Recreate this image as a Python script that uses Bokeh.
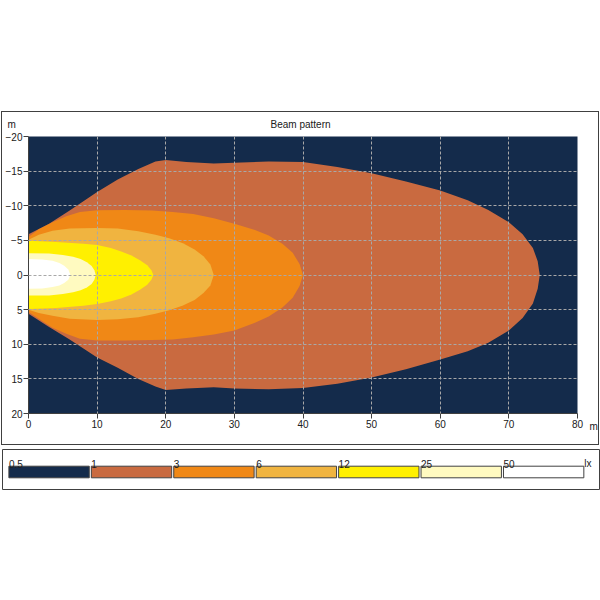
from bokeh.plotting import figure
from bokeh.models import Range1d, FixedTicker, Spacer
from bokeh.layouts import column, row
from bokeh.core.properties import value
from bokeh.embed import file_html
from bokeh.resources import INLINE

# ---------------- data ----------------
TITLE = "Beam pattern"
Y_UNIT = "m"
X_UNIT = "m"
X_TICKS = [0, 10, 20, 30, 40, 50, 60, 70, 80]
Y_TICKS = [-20, -15, -10, -5, 0, 5, 10, 15, 20]
LEVELS = ["0.5", "1", "3", "6", "12", "25", "50"]
UNIT = "lx"

# isolux contours: distance x (m), lateral edge above (top) and below (bot) the axis (m)
LX1_X = [0, 3, 6, 10, 13, 16, 18.5, 20, 23, 27, 30, 35, 40, 45, 50, 55, 60, 64, 67, 70, 72, 73.5, 74.2, 74.5]
LX1_TOP = [-5.9, -7.4, -9.3, -12.0, -13.8, -15.3, -16.4, -16.6, -16.3, -16.1, -16.2, -16.4, -16.3, -15.6,
           -14.7, -13.5, -12.2, -10.8, -9.4, -7.6, -5.9, -3.9, -2.0, 0]
LX1_BOT = [5.6, 7.5, 9.3, 11.9, 13.4, 15.0, 16.1, 16.6, 16.4, 16.2, 16.4, 16.5, 16.3, 15.7,
           14.8, 13.6, 12.2, 11.0, 9.8, 8.0, 6.2, 4.1, 2.0, 0]

LX3_X = [0, 1.5, 3.5, 5.5, 7.5, 10, 14, 18, 21, 24, 27, 30, 33, 35, 37, 38.5, 39.5, 40]
LX3_TOP = [-5.5, -6.6, -7.6, -8.5, -9.1, -9.35, -9.4, -9.3, -9.1, -8.8, -8.2, -7.4, -6.5, -5.7, -4.5, -3.2, -1.6, 0]
LX3_BOT = [5.35, 6.3, 7.6, 8.5, 9.2, 9.45, 9.45, 9.4, 9.3, 9.0, 8.6, 8.0, 6.9, 6.0, 4.7, 3.3, 1.6, 0]

LX6_X = [0, 1.5, 3.5, 6, 10, 13, 16, 18.5, 20.5, 22.5, 24.2, 25.5, 26.5, 27]
LX6_TOP = [-5.1, -5.8, -6.4, -6.7, -6.8, -6.7, -6.3, -5.8, -5.3, -4.6, -3.7, -2.7, -1.5, 0]
LX6_BOT = [5.0, 5.5, 5.9, 6.3, 6.5, 6.4, 6.1, 5.6, 5.1, 4.4, 3.6, 2.6, 1.5, 0]

LX12_X = [0, 4, 8, 10, 12, 13.5, 15, 16.3, 17.3, 17.9, 18.2]
LX12_TOP = [-4.95, -4.75, -4.5, -4.35, -3.9, -3.4, -2.8, -2.1, -1.4, -0.7, 0]
LX12_BOT = [4.9, 4.75, 4.45, 4.2, 3.8, 3.4, 2.8, 2.1, 1.4, 0.7, 0]

LX25_X = [0, 3, 5, 6.5, 7.6, 8.5, 9.2, 9.6, 9.8]
LX25_TOP = [-3.15, -3.1, -2.9, -2.65, -2.3, -1.85, -1.3, -0.7, 0]
LX25_BOT = [2.95, 2.95, 2.75, 2.5, 2.2, 1.8, 1.3, 0.7, 0]

LX50_X = [0, 2, 3.5, 4.5, 5.2, 5.8, 6.1]
LX50_TOP = [-2.3, -2.25, -2.05, -1.75, -1.35, -0.8, 0]
LX50_BOT = [2.0, 1.95, 1.75, 1.5, 1.15, 0.7, 0]

# ---------------- styles ----------------
COLORS = ["#142b4b", "#c96a40", "#f08816", "#f0b440", "#fff000", "#fffac0", "#ffffff"]
FONT = "Liberation Sans"
TXT = "#202020"
FRAME = "#404040"
FS = "10px"

common = dict(output_backend="svg", toolbar_location=None,
              background_fill_color="white", border_fill_color="white")
strip = dict(min_border_left=0, min_border_right=0, min_border_top=0, min_border_bottom=0,
             x_axis_location=None, y_axis_location=None, outline_line_color=None)

# header strip: unit of the lateral axis and the title
hdr = figure(frame_width=596, frame_height=18, x_range=Range1d(0, 596), y_range=Range1d(18, 0),
             **strip, **common)
hdr.grid.visible = False
hdr.text(x=[298], y=[11.5], text=[TITLE], text_align="center", text_baseline="middle",
         text_font=value(FONT), text_font_size=FS, text_color=TXT)
hdr.text(x=[5], y=[11.5], text=[Y_UNIT], text_align="left", text_baseline="middle",
         text_font=value(FONT), text_font_size=FS, text_color=TXT)

# main beam plot
main = figure(frame_width=549, frame_height=277,
              min_border_left=26, min_border_right=11, min_border_top=6, min_border_bottom=31,
              x_range=Range1d(0, 80), y_range=Range1d(20, -20),
              output_backend="svg", toolbar_location=None,
              background_fill_color=COLORS[0], border_fill_color="white",
              outline_line_color=None)

contours = [(LX1_X, LX1_TOP, LX1_BOT), (LX3_X, LX3_TOP, LX3_BOT), (LX6_X, LX6_TOP, LX6_BOT),
            (LX12_X, LX12_TOP, LX12_BOT), (LX25_X, LX25_TOP, LX25_BOT), (LX50_X, LX50_TOP, LX50_BOT)]
for (cx, ct, cb), col in zip(contours, COLORS[1:]):
    xs = list(cx) + list(cx)[::-1]
    ys = list(ct) + list(cb)[::-1]
    main.patch(xs, ys, fill_color=col, line_color=None)

for ax, ticks in ((main.xaxis, X_TICKS), (main.yaxis, Y_TICKS)):
    ax.ticker = FixedTicker(ticks=ticks)
    ax.major_tick_out = 5
    ax.major_tick_in = 0
    ax.minor_tick_out = 0
    ax.minor_tick_in = 0
    ax.axis_line_color = FRAME
    ax.major_tick_line_color = FRAME
    ax.major_label_text_font = FONT
    ax.major_label_text_font_size = FS
    ax.major_label_text_color = TXT
    ax.major_label_standoff = 1

main.xgrid.ticker = FixedTicker(ticks=X_TICKS)
main.ygrid.ticker = FixedTicker(ticks=Y_TICKS)
for g in (main.xgrid, main.ygrid):
    g.grid_line_color = "#a8a8a8"
    g.grid_line_dash = "3 2"
    g.grid_line_width = 1
    g.level = "overlay"

# narrow strip right of the plot carrying the distance unit
side = figure(frame_width=10, frame_height=314, x_range=Range1d(0, 10), y_range=Range1d(314, 0),
              **strip, **common)
side.grid.visible = False
side.text(x=[1], y=[290], text=[X_UNIT], text_align="left", text_baseline="alphabetic",
          text_font=value(FONT), text_font_size=FS, text_color=TXT)

chart = column(hdr, row(main, side), styles={"outline": "1px solid " + FRAME})

# ---------------- legend ----------------
leg = figure(frame_width=597, frame_height=40, x_range=Range1d(-0.0776, 7.165), y_range=Range1d(40, 0),
             min_border_left=1, min_border_right=1, min_border_top=1, min_border_bottom=1,
             x_axis_location=None, y_axis_location=None,
             outline_line_color=FRAME, outline_line_width=1, **common)
leg.grid.visible = False
idx = list(range(len(LEVELS)))
leg.quad(left=idx, right=[i + 0.975 for i in idx], top=16.7, bottom=28.3,
         fill_color=COLORS, line_color=FRAME, line_width=1)
leg.text(x=idx, y=14, text=LEVELS, text_align="left", text_baseline="alphabetic",
         text_font=value(FONT), text_font_size=FS, text_color=TXT)
leg.text(x=[len(LEVELS) - 0.02], y=[14], text=[UNIT], text_align="left", text_baseline="alphabetic",
         text_font=value(FONT), text_font_size=FS, text_color=TXT)

layout = column(Spacer(width=600, height=112),
                row(Spacer(width=2, height=332), chart),
                Spacer(width=600, height=4),
                row(Spacer(width=1, height=42), leg))

open("out.html", "w").write(file_html(layout, INLINE))
